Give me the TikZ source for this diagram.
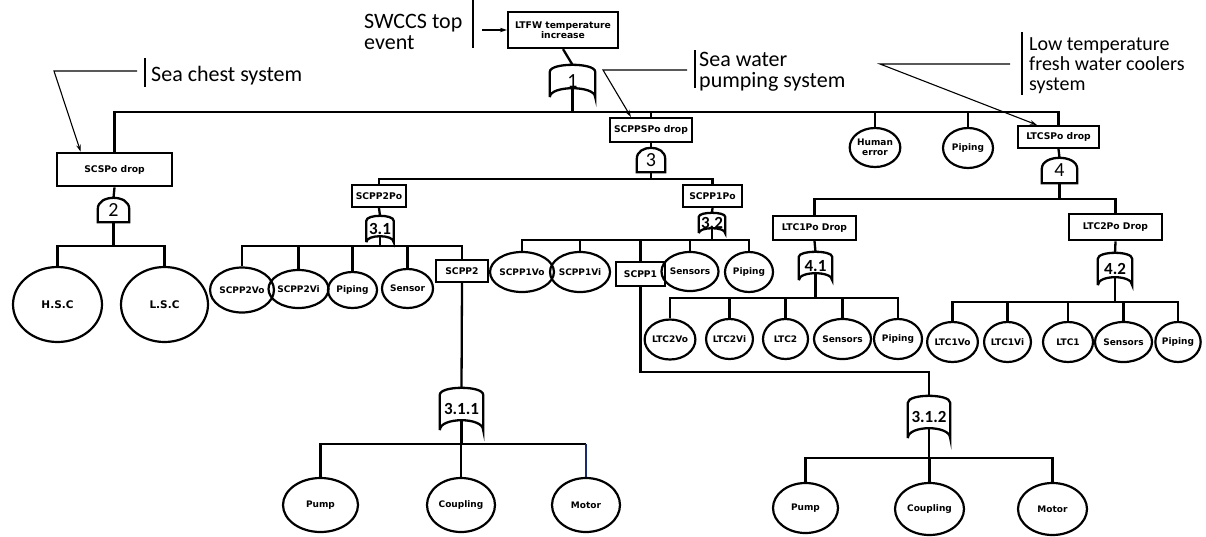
\documentclass[tikz,border=0pt]{standalone}
\usepackage{fontspec}
\setmainfont{Carlito}
\newfontfamily\dvs{DejaVu Sans}
\usetikzlibrary{shapes.geometric,arrows.meta,calc}
\definecolor{navyline}{RGB}{25,45,110}
\tikzset{
  tree/.style={line width=2.3pt},
  box/.style={draw, line width=2.2pt, rectangle, inner sep=0pt, align=center,
    font=\dvs\bfseries\fontsize{9.2}{10.5}\selectfont},
  thickbox/.style={box, line width=2.8pt},
  ev/.style={draw, ellipse, line width=2.2pt, inner sep=0pt, align=center,
    font=\dvs\bfseries\fontsize{9}{10}\selectfont},
  bigev/.style={ev, font=\dvs\bfseries\fontsize{10.5}{12}\selectfont},
  gate/.style={inner sep=0pt, font=\fontsize{20}{20}\selectfont},
  gatebold/.style={inner sep=0pt, font=\bfseries\fontsize{17}{17}\selectfont},
  ann/.style={line width=1.1pt},
  annarrow/.style={ann, -{Stealth[length=7pt,width=4.5pt]}},
  anntext/.style={font=\fontsize{22}{21}\selectfont, align=left, inner sep=0pt, anchor=north west},
  anntextsm/.style={anntext, font=\fontsize{20}{20}\selectfont},
}
% OR gate outline: name, top drop, bottom raise
\newcommand\orgate[3]{%
  \draw[tree] (#1.south west) -- ([yshift=-#2]#1.north west)
    .. controls ([yshift={#2/3}]#1.north west) and ([yshift={#2/3}]#1.north east) .. ([yshift=-#2]#1.north east)
    -- (#1.south east)
    .. controls ([yshift={4*#3/3}]#1.south east) and ([yshift={4*#3/3}]#1.south west) .. (#1.south west);
  \coordinate (#1o) at ([yshift=#3]#1.south);}
% AND gate outline: name, top drop
\newcommand\andgate[2]{%
  \draw[tree] (#1.south west) -- ([yshift=-#2]#1.north west)
    .. controls ([yshift={#2/3}]#1.north west) and ([yshift={#2/3}]#1.north east) .. ([yshift=-#2]#1.north east)
    -- (#1.south east) -- cycle;
  \coordinate (#1o) at (#1.south);}
\begin{document}
\begin{tikzpicture}[x=1pt,y=-1pt]
\useasboundingbox (0,0) rectangle (1206,536);

% ---------- boxes ----------
\node[box, minimum width=110, minimum height=36] (top) at (563,30) {LTFW temperature\\increase};
\node[thickbox, minimum width=115, minimum height=33] (scsp) at (114.5,169.5) {SCSPo drop};
\node[box, minimum width=82, minimum height=24] (scppsp) at (651,130) {SCPPSPo drop};
\node[box, minimum width=81, minimum height=22] (ltcsp) at (1058.5,137) {LTCSPo drop};
\node[box, minimum width=54, minimum height=22] (scpp2po) at (379,196) {SCPP2Po};
\node[box, minimum width=59, minimum height=22] (scpp1po) at (712.5,196) {SCPP1Po};
\node[box, minimum width=52, minimum height=22] (scpp2) at (462,271) {SCPP2};
\node[box, minimum width=49, minimum height=24] (scpp1) at (640.5,274) {SCPP1};
\node[box, minimum width=83, minimum height=24] (ltc1po) at (814.5,228) {LTC1Po Drop};
\node[thickbox, minimum width=93, minimum height=26] (ltc2po) at (1115.5,227) {LTC2Po Drop};

% ---------- gates ----------
\node[gate, minimum width=45, minimum height=32] (g1) at (572.5,81) {1};
\orgate{g1}{7}{9}
\node[gate, minimum width=31, minimum height=24] (g2) at (113.5,210) {2};
\andgate{g2}{11}
\node[gate, minimum width=28, minimum height=24] (g3) at (651,160) {3};
\andgate{g3}{11}
\node[gate, minimum width=35, minimum height=25] (g4) at (1059.5,170.5) {4};
\andgate{g4}{11}
\node[gatebold, minimum width=27, minimum height=26] (g31) at (380,229) {3.1};
\orgate{g31}{5}{6}
\node[gatebold, minimum width=26, minimum height=20] (g32) at (712,223) {3.2};
\orgate{g32}{4}{5}
\node[gatebold, minimum width=33, minimum height=28] (g41) at (815.5,266) {4.1};
\orgate{g41}{5}{7}
\node[gatebold, minimum width=34, minimum height=32] (g42) at (1115,269) {4.2};
\orgate{g42}{6}{8}
\node[gatebold, minimum width=43, minimum height=42] (g311) at (461.5,409) {3.1.1};
\orgate{g311}{7}{10}
\node[gatebold, minimum width=42, minimum height=42] (g312) at (929,417) {3.1.2};
\orgate{g312}{7}{10}

% ---------- basic events ----------
\node[bigev, minimum width=89, minimum height=75] (hsc) at (57.5,304.5) {H.S.C};
\node[bigev, minimum width=87, minimum height=75] (lsc) at (164.5,304.5) {L.S.C};
\node[ev, minimum width=54, minimum height=45] (scpp2vo) at (242,290) {SCPP2Vo};
\node[ev, minimum width=49, minimum height=38] (scpp2vi) at (298.5,289) {SCPP2Vi};
\node[ev, minimum width=49, minimum height=36] (pipa) at (352.5,290) {Piping};
\node[ev, minimum width=51, minimum height=39] (sensor) at (407.5,288.5) {Sensor};
\node[ev, minimum width=50, minimum height=40] (scpp1vo) at (522,272) {SCPP1Vo};
\node[ev, minimum width=52, minimum height=40] (scpp1vi) at (580,272) {SCPP1Vi};
\node[ev, minimum width=46, minimum height=39] (sensa) at (690,271.5) {Sensors};
\node[ev, minimum width=48, minimum height=40] (pipb) at (749,272) {Piping};
\node[ev, minimum width=50, minimum height=39] (human) at (875,147.5) {Human\\error};
\node[ev, minimum width=50, minimum height=40] (piptop) at (968,148) {Piping};
\node[ev, minimum width=46, minimum height=40] (ltc2vo) at (670,339.5) {LTC2Vo};
\node[ev, minimum width=45, minimum height=40] (ltc2vi) at (729.5,339) {LTC2Vi};
\node[ev, minimum width=45, minimum height=40] (ltc2) at (785.5,339) {LTC2};
\node[ev, minimum width=49, minimum height=40] (sensb) at (842.5,339) {Sensors};
\node[ev, minimum width=48, minimum height=40] (pipc) at (898,339) {Piping};
\node[ev, minimum width=49, minimum height=40] (ltc1vo) at (952.5,342) {LTC1Vo};
\node[ev, minimum width=45, minimum height=40] (ltc1vi) at (1007.5,342) {LTC1Vi};
\node[ev, minimum width=50, minimum height=40] (ltc1) at (1068,342) {LTC1};
\node[ev, minimum width=51, minimum height=40] (sensc) at (1123.5,342) {Sensors};
\node[ev, minimum width=44, minimum height=40] (pipd) at (1178,342) {Piping};
\node[ev, minimum width=75, minimum height=54] (pump1) at (320.5,505) {Pump};
\node[ev, minimum width=68, minimum height=54] (coup1) at (461,505) {Coupling};
\node[ev, minimum width=68, minimum height=54] (motor1) at (586,505) {Motor};
\node[ev, minimum width=65, minimum height=50] (pump2) at (805.5,508) {Pump};
\node[ev, minimum width=69, minimum height=52] (coup2) at (929.5,509) {Coupling};
\node[ev, minimum width=69, minimum height=52] (motor2) at (1052.5,509) {Motor};

% ---------- bus levels ----------
\coordinate (b1) at (0,112);
\coordinate (b2) at (0,246);
\coordinate (b3) at (0,179);
\coordinate (b31) at (0,246);
\coordinate (b32) at (0,240);
\coordinate (b311) at (0,444);
\coordinate (br) at (0,372);
\coordinate (b312) at (0,458);
\coordinate (b4) at (0,199);
\coordinate (b41) at (0,298);
\coordinate (b42) at (0,302);

% ---------- connectors ----------
\draw[tree] (top.south) -- (g1.north);
\foreach \c in {scsp,scppsp,human,piptop,ltcsp}
  \draw[tree] (g1o) -- (g1o |- b1) -| (\c.north);
\draw[tree] (scsp.south) -- (g2.north);
\foreach \c in {hsc,lsc}
  \draw[tree] (g2o) -- (g2o |- b2) -| (\c.north);
\draw[tree] (scppsp.south) -- (g3.north);
\foreach \c in {scpp2po,scpp1po}
  \draw[tree] (g3o) -- (g3o |- b3) -| (\c.north);
\draw[tree] (scpp2po.south) -- (g31.north);
\foreach \c in {scpp2vo,scpp2vi,pipa,sensor,scpp2}
  \draw[tree] (g31o) -- (g31o |- b31) -| (\c.north);
\draw[tree] (scpp2.south) -- (g311.north);
\foreach \c in {pump1,coup1}
  \draw[tree] (g311o) -- (g311o |- b311) -| (\c.north);
\draw[tree] (g311o) -- (g311o |- b311) -- (motor1.north |- b311);
\draw[tree, navyline] (motor1.north |- b311) -- (motor1.north);
\draw[tree] (scpp1po.south) -- (g32.north);
\foreach \c in {scpp1vo,scpp1vi,scpp1,sensa,pipb}
  \draw[tree] (g32o) -- (g32o |- b32) -| (\c.north);
\draw[tree] (scpp1.south) -- (scpp1.south |- br) -| (g312.north);
\foreach \c in {pump2,coup2,motor2}
  \draw[tree] (g312o) -- (g312o |- b312) -| (\c.north);
\draw[tree] (ltcsp.south) -- (g4.north);
\foreach \c in {ltc1po,ltc2po}
  \draw[tree] (g4o) -- (g4o |- b4) -| (\c.north);
\draw[tree] (ltc1po.south) -- (g41.north);
\foreach \c in {ltc2vo,ltc2vi,ltc2,sensb,pipc}
  \draw[tree] (g41o) -- (g41o |- b41) -| (\c.north);
\draw[tree] (ltc2po.south) -- (g42.north);
\foreach \c in {ltc1vo,ltc1vi,ltc1,sensc,pipd}
  \draw[tree] (g42o) -- (g42o |- b42) -| (\c.north);

% ---------- annotations ----------
\node[anntext] (tswccs) at (364,14) {SWCCS top\\event};
\draw[ann] (473,0) -- (473,48);
\coordinate (swa) at (482,30);
\draw[annarrow] (swa) -- (top.west);

\node[anntext] (tsc) at (151,66) {Sea chest system};
\draw[ann] (145,58) -- (145,87);
\coordinate (sca) at (137,71);
\coordinate (scb) at (54,71);
\draw[annarrow] (sca) -- (scb) -- ([xshift=25]scsp.north west);

\node[anntext] (tsw) at (699,52) {Sea water\\pumping system};
\draw[ann] (695,50) -- (695,88);
\coordinate (swpa) at (687,70);
\coordinate (swpb) at (603,70);
\draw[annarrow] (swpa) -- (swpb) -- ([xshift=22]scppsp.north west);

\node[anntextsm] (tlt) at (1029,37) {Low temperature\\fresh water coolers\\system};
\draw[ann] (1022,32) -- (1022,95);
\coordinate (lta) at (1010,64);
\coordinate (ltb) at (880,64);
\draw[annarrow] (lta) -- (ltb) -- ([xshift=20]ltcsp.north west);
\end{tikzpicture}
\end{document}
